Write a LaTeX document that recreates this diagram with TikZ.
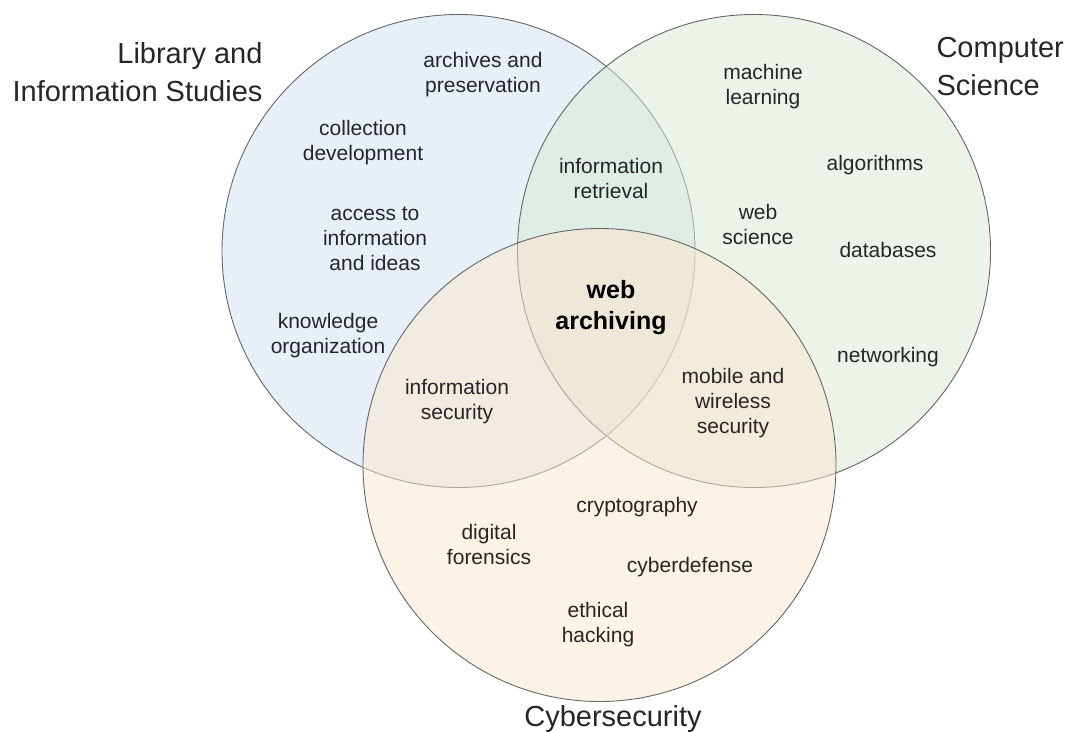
\documentclass[tikz,border=0pt]{standalone}
\usepackage{xcolor}
\usepackage{fontspec}
\setmainfont{Liberation Sans}
\usepackage{tikz}
\usetikzlibrary{positioning}

\definecolor{lisblue}{HTML}{CFE2F3}
\definecolor{csgreen}{HTML}{D9EAD3}
\definecolor{secorange}{HTML}{FCE5CD}
\definecolor{rimgray}{HTML}{666666}
\definecolor{inkgray}{HTML}{262626}

\begin{document}
\begin{tikzpicture}[x=1pt, y=-1pt,
    every node/.style = {align=center, text=inkgray, font=\fontsize{21}{25}\selectfont},
    field/.style = {circle, draw=rimgray, line width=0.9pt, fill opacity=0.5, text opacity=1,
                    minimum size=473pt, inner sep=0pt},
    title/.style = {font=\fontsize{29}{38}\selectfont}]
    \useasboundingbox (0,0) rectangle (1067,731);
    % the three fields
    \node[field, fill=lisblue] (lis) at (458.5,251) {};
    \node[field, fill=csgreen] (cs) at (754,251) {};
    \node[field, fill=secorange] (sec) at (599.5,465) {};
    % field names
    \node[title, align=right, anchor=east] (lisname) at (266,72) {Library and\\ Information Studies};
    \node[title, align=left, anchor=west] (csname) at (933,67) {Computer\\ Science};
    \node[title] (secname) at (613,719) {Cybersecurity};
    % library and information studies
    \node (archives) at (483,75) {archives and\\ preservation};
    \node (collection) at (363,143) {collection\\ development};
    \node (access) at (375,239) {access to\\ information\\ and ideas};
    \node (knowledge) at (328,336) {knowledge\\ organization};
    % computer science
    \node (ml) at (763,87) {machine\\ learning};
    \node (algo) at (875,165) {algorithms};
    \node (websci) at (758,224) {web\\ science};
    \node (db) at (888,250) {databases};
    \node (net) at (888,357) {networking};
    % overlaps
    \node (ir) at (611,178) {information\\ retrieval};
    \node (infosec) at (457,402) {information\\ security};
    \node (mobile) at (733,403) {mobile and\\ wireless\\ security};
    \node[font=\fontsize{25}{31}\selectfont\bfseries, text=black] (webarch) at (611,308) {web\\ archiving};
    % cybersecurity
    \node (crypto) at (637,507) {cryptography};
    \node (forensics) at (489,544) {digital\\ forensics};
    \node (defense) at (690,567) {cyberdefense};
    \node (hacking) at (598,625) {ethical\\ hacking};
\end{tikzpicture}
\end{document}
